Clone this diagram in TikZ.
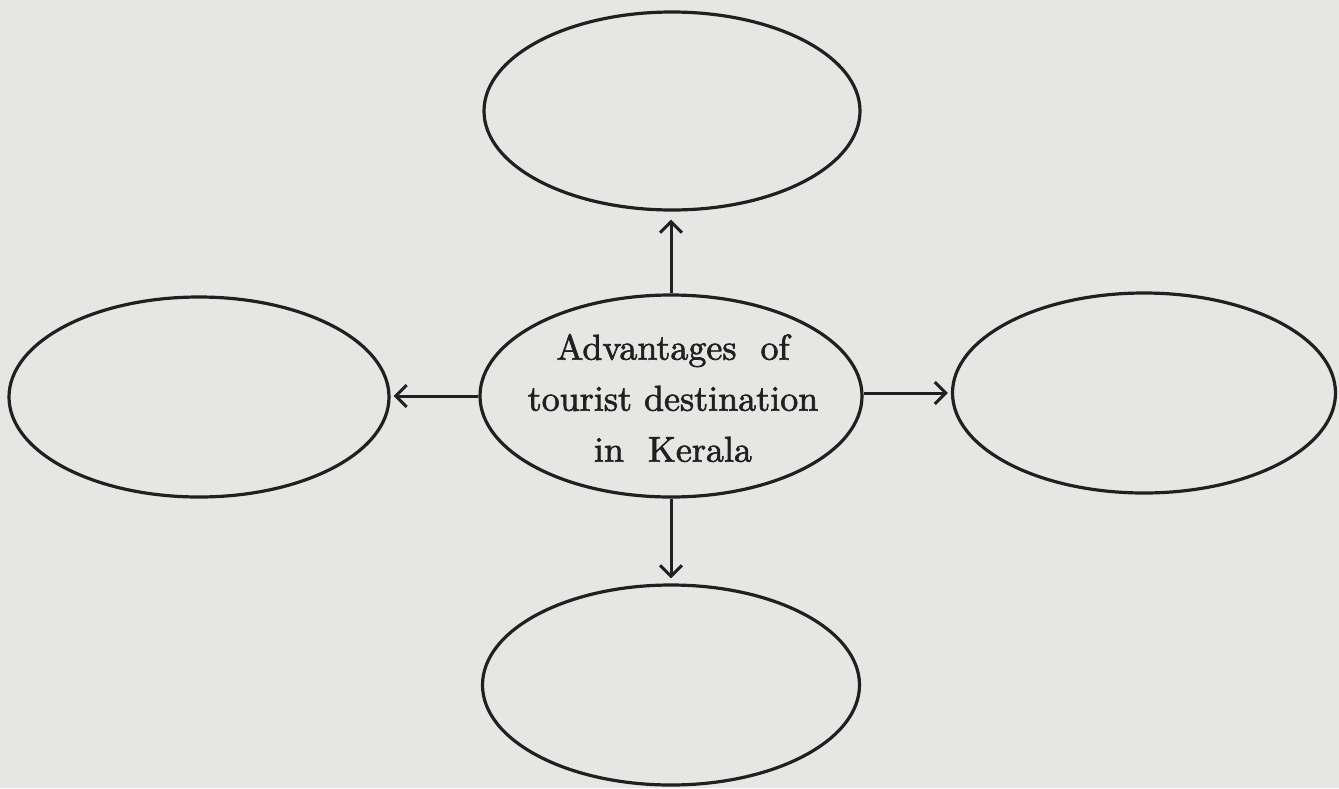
\documentclass[tikz,border=0pt]{standalone}
\usepackage{fontspec}
\newfontfamily\lmten{lmroman10-regular}[Extension=.otf, FakeBold=1.8]
\usetikzlibrary{shapes.geometric,arrows.meta}
\definecolor{bg}{HTML}{E6E6E4}
\definecolor{ink}{HTML}{202020}
\begin{document}
\begin{tikzpicture}[x=1pt,y=-1pt,
  oval/.style={draw=ink, line width=3.2pt, ellipse, inner sep=0pt},
  arr/.style={draw=ink, line width=3pt, -{Straight Barb[length=11pt,width=22pt,line width=3pt]}}]
\fill[bg] (0,0) rectangle (1339,788);
\useasboundingbox (0,0) rectangle (1339,788);
\node[oval, minimum width=376pt, minimum height=198pt] (top) at (672,111) {};
\node[oval, minimum width=380pt, minimum height=200pt] (left) at (199,397) {};
\node[oval, minimum width=382pt, minimum height=202pt] (c) at (671,396) {};
\node[align=center, text=ink, inner sep=0pt,
  font=\lmten\fontsize{36}{51}\selectfont] (ctext) at (673,398) {Advantages~ of\\tourist destination\\in~ Kerala};
\node[oval, minimum width=383pt, minimum height=200pt] (right) at (1144,393) {};
\node[oval, minimum width=377pt, minimum height=200pt] (bottom) at (671,685) {};
\draw[arr, shorten >=8pt] (c.north) -- (c.north |- top.south);
\draw[arr, shorten >=3pt] (c.west) -- (c.west -| left.east);
\draw[arr, shorten >=3pt] (c.east |- right.west) -- (right.west);
\draw[arr, shorten >=5pt] (c.south) -- (c.south |- bottom.north);
\end{tikzpicture}
\end{document}
